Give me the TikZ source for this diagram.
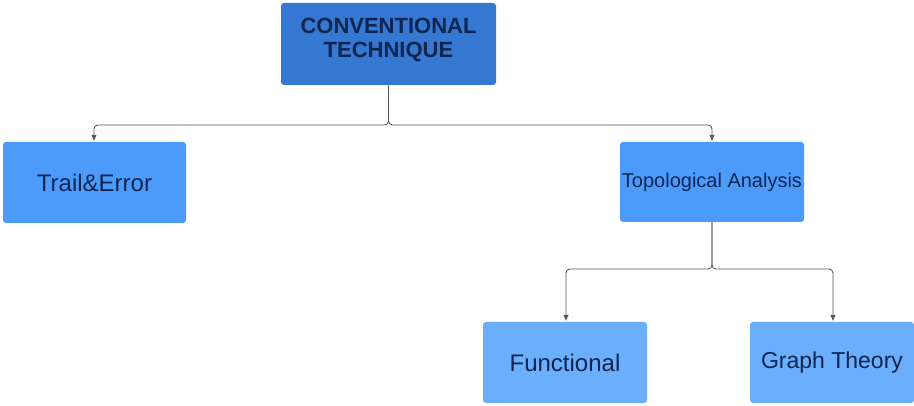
\documentclass[tikz,border=0pt]{standalone}
\usepackage{fontspec}
\setmainfont{Liberation Sans}
\usetikzlibrary{arrows.meta}
\definecolor{topblue}{HTML}{3478D2}
\definecolor{midblue}{HTML}{4C9BFB}
\definecolor{lowblue}{HTML}{6AAEFC}
\definecolor{inkblue}{HTML}{0D2550}
\definecolor{linegray}{HTML}{5A5A5A}
\tikzset{
  box/.style={draw=none, rounded corners=3pt, text=inkblue, align=center, inner sep=0pt},
  link/.style={draw=linegray, line width=0.9pt, rounded corners=4pt,
    -{Triangle[length=6pt,width=5pt]}, shorten >=1pt},
}
\begin{document}
\begin{tikzpicture}[x=1pt,y=-1pt]
\useasboundingbox (0,0) rectangle (914,406);
\fill[white] (0,0) rectangle (914,406);
% boxes (corner coordinates in pixels, y grows downward)
\node[box, fill=topblue, minimum width=215pt, minimum height=82pt] (conv) at (388.5,44) {};
\node[text=inkblue, align=center, inner sep=0pt,
  font=\fontsize{22}{24}\selectfont\bfseries] (convtext) at (388.5,40) {CONVENTIONAL\\TECHNIQUE};
\node[box, fill=midblue, minimum width=183pt, minimum height=81pt,
  font=\fontsize{24}{26}\selectfont] (trail) at (94.5,182.5) {Trail\&Error};
\node[box, fill=midblue, minimum width=184pt, minimum height=80pt,
  font=\fontsize{20}{22}\selectfont] (topo) at (712,182) {Topological Analysis};
\node[box, fill=lowblue, minimum width=164pt, minimum height=81pt,
  font=\fontsize{24}{26}\selectfont] (func) at (565,362.5) {Functional};
\node[box, fill=lowblue, minimum width=164pt, minimum height=81pt,
  font=\fontsize{23}{25}\selectfont] (graph) at (832,362.5) {Graph Theory};
% connectors
\draw[link] (conv.south) |- (94,125) -- (trail.north -| 94,0);
\draw[link] (conv.south) |- (712,125) -- (topo.north);
\draw[link] (topo.south) |- (566,269) -- (func.north -| 566,0);
\draw[link] (topo.south) |- (833,269) -- (graph.north -| 833,0);
\end{tikzpicture}
\end{document}
